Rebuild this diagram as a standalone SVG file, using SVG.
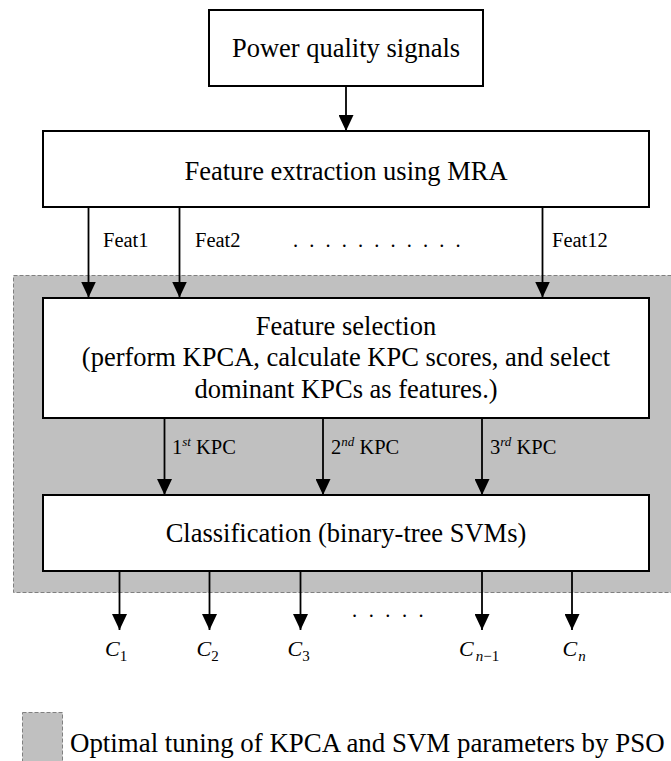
<svg xmlns="http://www.w3.org/2000/svg" width="671" height="761" viewBox="0 0 671 761">
<style>
.box{fill:#fff;stroke:#000;stroke-width:2}
.t{font-family:'Liberation Serif','Times New Roman',Tinos,'DejaVu Serif',serif;fill:#000}
.big{font-size:26.5px;text-anchor:middle}
.lab{font-size:20.5px}
.cl{font-size:22px;font-style:italic}
.sub{font-size:15px}
.cn line{stroke:#000;stroke-width:1.8;marker-end:url(#ah)}
.zone{fill:#c0c0c0;stroke:#808080;stroke-width:1;stroke-dasharray:4 2}
</style>
<defs>
<marker id="ah" markerUnits="userSpaceOnUse" markerWidth="16" markerHeight="15" viewBox="0 0 16 15" refX="16" refY="7.5" orient="auto"><path d="M0,0 L16,7.5 L0,15 z" fill="#000"/></marker>
</defs>
<rect id="pso-zone" class="zone" x="13.5" y="275.5" width="670" height="317"/>
<g id="legend">
<rect class="zone" x="22.5" y="712.5" width="40" height="60"/>
<text class="t" x="70" y="752" font-size="26.9">Optimal tuning of KPCA and SVM parameters by PSO</text>
</g>
<g id="signals">
<rect class="box" x="209" y="10" width="274" height="76"/>
<text class="t big" x="346" y="57">Power quality signals</text>
</g>
<g id="extraction">
<rect class="box" x="43" y="131" width="606" height="76"/>
<text class="t big" x="346" y="180">Feature extraction using MRA</text>
</g>
<g id="selection">
<rect class="box" x="43" y="298" width="606" height="120"/>
<text class="t big" x="346" y="334.5">Feature selection</text>
<text class="t big" x="346" y="366">(perform KPCA, calculate KPC scores, and select</text>
<text class="t big" x="346" y="398">dominant KPCs as features.)</text>
</g>
<g id="classification">
<rect class="box" x="43" y="495" width="606" height="76"/>
<text class="t big" x="346" y="541.5">Classification (binary-tree SVMs)</text>
</g>
<g id="connectors" class="cn">
<line x1="346" y1="86" x2="346" y2="131"/>
<line x1="88.5" y1="207" x2="88.5" y2="297.5"/>
<line x1="179.5" y1="207" x2="179.5" y2="297.5"/>
<line x1="542.5" y1="207" x2="542.5" y2="297.5"/>
<line x1="164.5" y1="418" x2="164.5" y2="495"/>
<line x1="323" y1="418" x2="323" y2="495"/>
<line x1="482" y1="418" x2="482" y2="495"/>
<line x1="119.5" y1="571" x2="119.5" y2="630"/>
<line x1="209.5" y1="571" x2="209.5" y2="630"/>
<line x1="300.5" y1="571" x2="300.5" y2="630"/>
<line x1="482" y1="571" x2="482" y2="630"/>
<line x1="572" y1="571" x2="572" y2="630"/>
</g>
<g id="labels">
<text class="t lab" x="103" y="247">Feat1</text>
<text class="t lab" x="195" y="247">Feat2</text>
<text class="t lab" x="552" y="247">Feat12</text>
<text class="t lab" x="293" y="247" letter-spacing="3">. . . . . . . . . . .</text>
<text class="t lab" x="172" y="454">1<tspan font-size="13" font-style="italic" dy="-8">st</tspan><tspan dy="8"> KPC</tspan></text>
<text class="t lab" x="331" y="454">2<tspan font-size="13" font-style="italic" dy="-8">nd</tspan><tspan dy="8"> KPC</tspan></text>
<text class="t lab" x="490" y="454">3<tspan font-size="13" font-style="italic" dy="-8">rd</tspan><tspan dy="8"> KPC</tspan></text>
<text class="t lab" x="352" y="617" letter-spacing="3.2">. . . . .</text>
</g>
<g id="classes">
<text class="t cl" x="105" y="656">C<tspan class="sub" font-style="normal" dy="5">1</tspan></text>
<text class="t cl" x="196.5" y="656">C<tspan class="sub" font-style="normal" dy="5">2</tspan></text>
<text class="t cl" x="287.5" y="656">C<tspan class="sub" font-style="normal" dy="5">3</tspan></text>
<text class="t cl" x="459" y="656">C<tspan class="sub" dy="5" dx="2">n</tspan><tspan class="sub" font-style="normal">−1</tspan></text>
<text class="t cl" x="562.5" y="656">C<tspan class="sub" dy="5" dx="1">n</tspan></text>
</g>
</svg>
